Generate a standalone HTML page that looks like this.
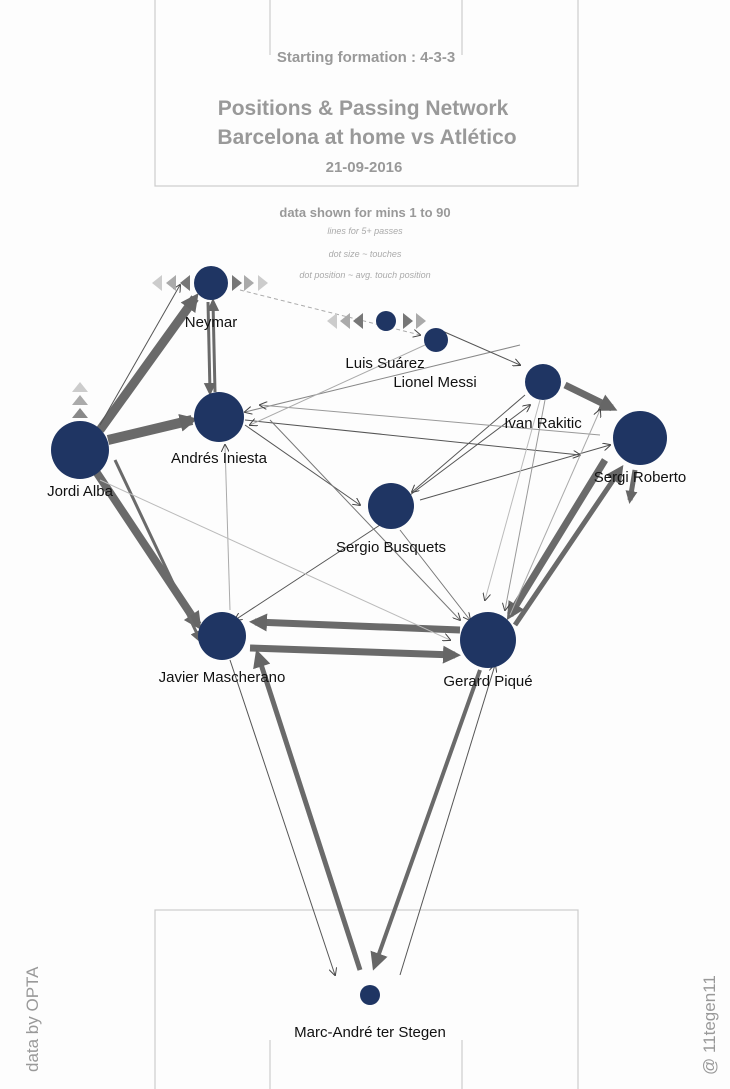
<!DOCTYPE html>
<html><head><meta charset="utf-8"><style>
html,body{margin:0;padding:0;background:#fff;}
svg{display:block;font-family:"Liberation Sans",Arial,sans-serif;}
</style></head><body>
<svg width="730" height="1089" viewBox="0 0 730 1089" xmlns="http://www.w3.org/2000/svg">
<defs>
<marker id="a" markerWidth="8" markerHeight="8" refX="7" refY="4" orient="auto" markerUnits="userSpaceOnUse"><path d="M0,0 L8,4 L0,8" fill="none" stroke="#444" stroke-width="1"/></marker>
<marker id="b" markerWidth="20" markerHeight="20" refX="12" refY="10" orient="auto" markerUnits="userSpaceOnUse"><path d="M0,1 L18,10 L0,19 z" fill="#666"/></marker>
<marker id="c" markerWidth="14" markerHeight="14" refX="9" refY="7" orient="auto" markerUnits="userSpaceOnUse"><path d="M0,1 L13,7 L0,13 z" fill="#666"/></marker>
</defs>
<rect width="730" height="1089" fill="#fdfdfd"/>
<g fill="none" stroke="#ccc" stroke-width="1.2">
<rect x="155" y="-2" width="423" height="188"/>
<path d="M270,0 V55 M462,0 V55"/>
<rect x="155" y="910" width="423" height="190"/>
<path d="M270,1089 V1040 M462,1089 V1040"/>
</g>
<g fill="#999" font-weight="bold" text-anchor="middle">
<text x="366" y="62" font-size="15">Starting formation : 4-3-3</text>
<text x="363" y="115" font-size="21">Positions &amp; Passing Network</text>
<text x="367" y="144" font-size="21">Barcelona at home vs Atlético</text>
<text x="364" y="172" font-size="15">21-09-2016</text>
<text x="365" y="217" font-size="13">data shown for mins 1 to 90</text>
</g>
<g fill="#aaa" font-style="italic" text-anchor="middle" font-size="9">
<text x="365" y="234">lines for 5+ passes</text>
<text x="365" y="257">dot size ~ touches</text>
<text x="365" y="278">dot position ~ avg. touch position</text>
</g>
<g stroke="#6a6a6a" fill="none" stroke-linecap="butt" marker-end="url(#b)">
<line x1="100" y1="430" x2="195" y2="298" stroke-width="9"/>
<line x1="108" y1="440" x2="192" y2="420" stroke-width="10"/>
<line x1="95" y1="470" x2="198" y2="625" stroke-width="8"/>
<line x1="460" y1="630" x2="255" y2="622" stroke-width="7"/>
<line x1="250" y1="648" x2="455" y2="655" stroke-width="7"/>
<line x1="605" y1="460" x2="510" y2="615" stroke-width="7"/>
<line x1="515" y1="625" x2="620" y2="470" stroke-width="5"/>
<line x1="565" y1="385" x2="612" y2="408" stroke-width="7"/>
<line x1="480" y1="670" x2="375" y2="965" stroke-width="4"/>
<line x1="360" y1="970" x2="258" y2="655" stroke-width="5"/>
</g>
<g stroke="#6a6a6a" fill="none" marker-end="url(#c)">
<line x1="115" y1="460" x2="200" y2="640" stroke-width="3"/>
<line x1="635" y1="470" x2="630" y2="500" stroke-width="5"/>
<line x1="215" y1="392" x2="213" y2="302" stroke-width="3"/>
<line x1="208" y1="302" x2="210" y2="392" stroke-width="3"/>
</g>
<g stroke="#555" stroke-width="1" fill="none" marker-end="url(#a)">
<line x1="100" y1="425" x2="180" y2="285"/>
<line x1="230" y1="660" x2="335" y2="975"/>
<line x1="400" y1="975" x2="495" y2="665"/>
<line x1="245" y1="425" x2="360" y2="505"/>
<line x1="380" y1="525" x2="235" y2="620"/>
<line x1="410" y1="495" x2="530" y2="405"/>
<line x1="525" y1="395" x2="412" y2="492"/>
<line x1="245" y1="420" x2="580" y2="455"/>
<line x1="420" y1="500" x2="610" y2="445"/>
<line x1="520" y1="345" x2="245" y2="412" stroke="#888"/>
<line x1="600" y1="435" x2="260" y2="405" stroke="#999"/>
<line x1="440" y1="330" x2="520" y2="365"/>
<line x1="545" y1="400" x2="505" y2="610" stroke="#999"/>
<line x1="510" y1="615" x2="600" y2="410" stroke="#aaa"/>
<line x1="240" y1="290" x2="420" y2="335" stroke="#aaa" stroke-dasharray="4,3"/>
<line x1="425" y1="345" x2="250" y2="425" stroke="#aaa"/>
<line x1="270" y1="420" x2="460" y2="620" stroke="#777"/>
<line x1="400" y1="530" x2="470" y2="620" stroke="#777"/>
<line x1="230" y1="610" x2="225" y2="445" stroke="#aaa"/>
<line x1="100" y1="480" x2="450" y2="640" stroke="#bbb"/>
<line x1="540" y1="400" x2="485" y2="600" stroke="#bbb"/>
</g>
<g>
<path d="M152,283 L162,275 L162,291z" fill="#ccc"/>
<path d="M166,283 L176,275 L176,291z" fill="#aaa"/>
<path d="M180,283 L190,275 L190,291z" fill="#777"/>
<path d="M232,283 L242,275 L242,291z" transform="rotate(180 237 283)" fill="#777"/>
<path d="M244,283 L254,275 L254,291z" transform="rotate(180 249 283)" fill="#aaa"/>
<path d="M258,283 L268,275 L268,291z" transform="rotate(180 263 283)" fill="#ccc"/>
<path d="M327,321 L337,313 L337,329z" fill="#ccc"/>
<path d="M340,321 L350,313 L350,329z" fill="#aaa"/>
<path d="M353,321 L363,313 L363,329z" fill="#777"/>
<path d="M403,321 L413,313 L413,329z" transform="rotate(180 408 321)" fill="#777"/>
<path d="M416,321 L426,313 L426,329z" transform="rotate(180 421 321)" fill="#aaa"/>
<path d="M72,392 L80,382 L88,392z" fill="#ccc"/>
<path d="M72,405 L80,395 L88,405z" fill="#aaa"/>
<path d="M72,418 L80,408 L88,418z" fill="#888"/>
</g>
<g fill="#1f3563">
<circle cx="211" cy="283" r="17"/>
<circle cx="386" cy="321" r="10"/>
<circle cx="436" cy="340" r="12"/>
<circle cx="543" cy="382" r="18"/>
<circle cx="219" cy="417" r="25"/>
<circle cx="80" cy="450" r="29"/>
<circle cx="640" cy="438" r="27"/>
<circle cx="391" cy="506" r="23"/>
<circle cx="222" cy="636" r="24"/>
<circle cx="488" cy="640" r="28"/>
<circle cx="370" cy="995" r="10"/>
</g>
<g fill="#111" font-size="15" text-anchor="middle">
<text x="211" y="327">Neymar</text>
<text x="385" y="368">Luis Suárez</text>
<text x="435" y="387">Lionel Messi</text>
<text x="543" y="428">Ivan Rakitic</text>
<text x="219" y="463">Andrés Iniesta</text>
<text x="80" y="496">Jordi Alba</text>
<text x="640" y="482">Sergi Roberto</text>
<text x="391" y="552">Sergio Busquets</text>
<text x="222" y="682">Javier Mascherano</text>
<text x="488" y="686">Gerard Piqué</text>
<text x="370" y="1037">Marc-André ter Stegen</text>
</g>
<text transform="translate(38,1072) rotate(-90)" font-size="17" fill="#999">data by OPTA</text>
<text transform="translate(715,1075) rotate(-90)" font-size="17" fill="#999">@ 11tegen11</text>
</svg>
</body></html>
